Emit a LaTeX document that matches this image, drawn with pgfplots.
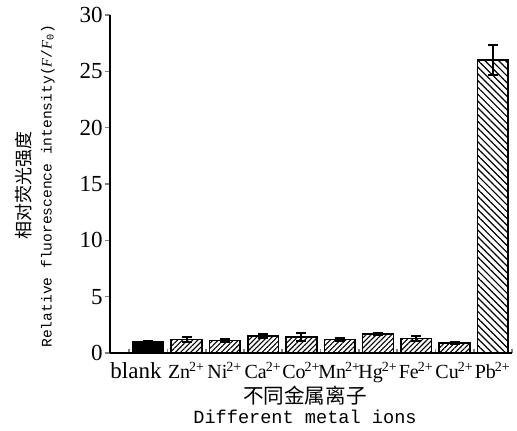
\documentclass[border=0pt]{standalone}
\usepackage{fontspec}
\setmainfont{Liberation Serif}
\setmonofont{Liberation Mono}
\newfontfamily\cjk{Noto Sans CJK SC}
\usepackage{pgfplots}
\pgfplotsset{compat=1.18}
\usetikzlibrary{patterns.meta}

\newcommand{\ion}[1]{#1\textsuperscript{\kern-0.5pt 2+}}

\begin{document}
\begin{tikzpicture}
\begin{axis}[
  width=201pt, height=169pt, scale only axis,
  xmin=-1, xmax=9.5, ymin=0, ymax=30,
  axis x line*=bottom, axis y line*=left,
  axis line style={line width=1pt, -},
  ytick={0,5,...,30},
  xtick={-0.32,1,2,3,4,5,6,7,8,9},
  xticklabels={{\fontsize{11.5}{13}\selectfont blank}, \ion{Zn}, \ion{Ni}, \ion{Ca}, \ion{Co},
               \ion{Mn}, \ion{Hg}, \ion{Fe}, \ion{Cu}, \ion{Pb}},
  minor xtick={-0.5,0.5,...,9.5},
  tick align=outside,
  major tick length=2.5pt,
  minor tick length=2pt,
  every major x tick/.append style={draw=none},
  every minor x tick/.append style={yshift=2pt, line width=0.8pt},
  every major y tick/.append style={line width=0.8pt},
  x tick label style={font=\fontsize{10}{12}\selectfont, inner sep=1pt, yshift=-1pt},
  y tick label style={font=\fontsize{11.5}{13}\selectfont, inner sep=1pt},
  /pgf/number format/assume math mode=true,
  xlabel={{\cjk 不同金属离子}\\[-2pt]{\ttfamily\fontsize{9.3}{11}\selectfont Different metal ions}},
  xlabel style={at={(axis description cs:0.5,0)}, anchor=center, yshift=-26pt, xshift=-3pt,
                align=center, font=\fontsize{10.3}{12}\selectfont},
  ylabel={{\cjk 相对荧光强度}\\[-0.5pt]{\ttfamily\fontsize{7.3}{9}\selectfont Relative fluorescence intensity(\textrm{\textit{F}}/\textrm{\textit{F}}\textsubscript{0})}},
  ylabel style={at={(axis description cs:0,0.5)}, anchor=center, yshift=37.5pt, xshift=-1pt,
                align=center, font=\fontsize{9}{11}\selectfont},
  error bars/error bar style={line width=1pt},
  error bars/error mark options={rotate=90, mark size=2.5pt, line width=1pt},
]
\addplot[ybar, bar width=0.8, bar shift=0pt, fill=black, draw=black, line width=0.8pt,
  error bars/.cd, y dir=both, y explicit]
  coordinates {(0,1.0) +- (0,0.05)};
\addplot[ybar, bar width=0.8, bar shift=0pt, draw=black, line width=0.8pt,
  pattern={Lines[angle=45, distance=1.8pt, line width=0.55pt]},
  error bars/.cd, y dir=both, y explicit]
  coordinates {
    (1,1.2) +- (0,0.2)
    (2,1.1) +- (0,0.15)
    (3,1.5) +- (0,0.2)
    (4,1.4) +- (0,0.35)
    (5,1.2) +- (0,0.1)
    (6,1.7) +- (0,0.1)
    (7,1.3) +- (0,0.2)
    (8,0.9) +- (0,0.1)
  };
\addplot[ybar, bar width=0.8, bar shift=0pt, draw=black, line width=0.8pt,
  pattern={Lines[angle=-45, distance=2.4pt, line width=0.6pt]},
  error bars/.cd, y dir=both, y explicit]
  coordinates {(9,26.0) +- (0,1.3)};
\coordinate (O) at (rel axis cs:0,0);
\end{axis}
\pgfresetboundingbox
\path (O) ++(-55pt,-39pt) rectangle ++(258.5pt,215.5pt);
\end{tikzpicture}
\end{document}
